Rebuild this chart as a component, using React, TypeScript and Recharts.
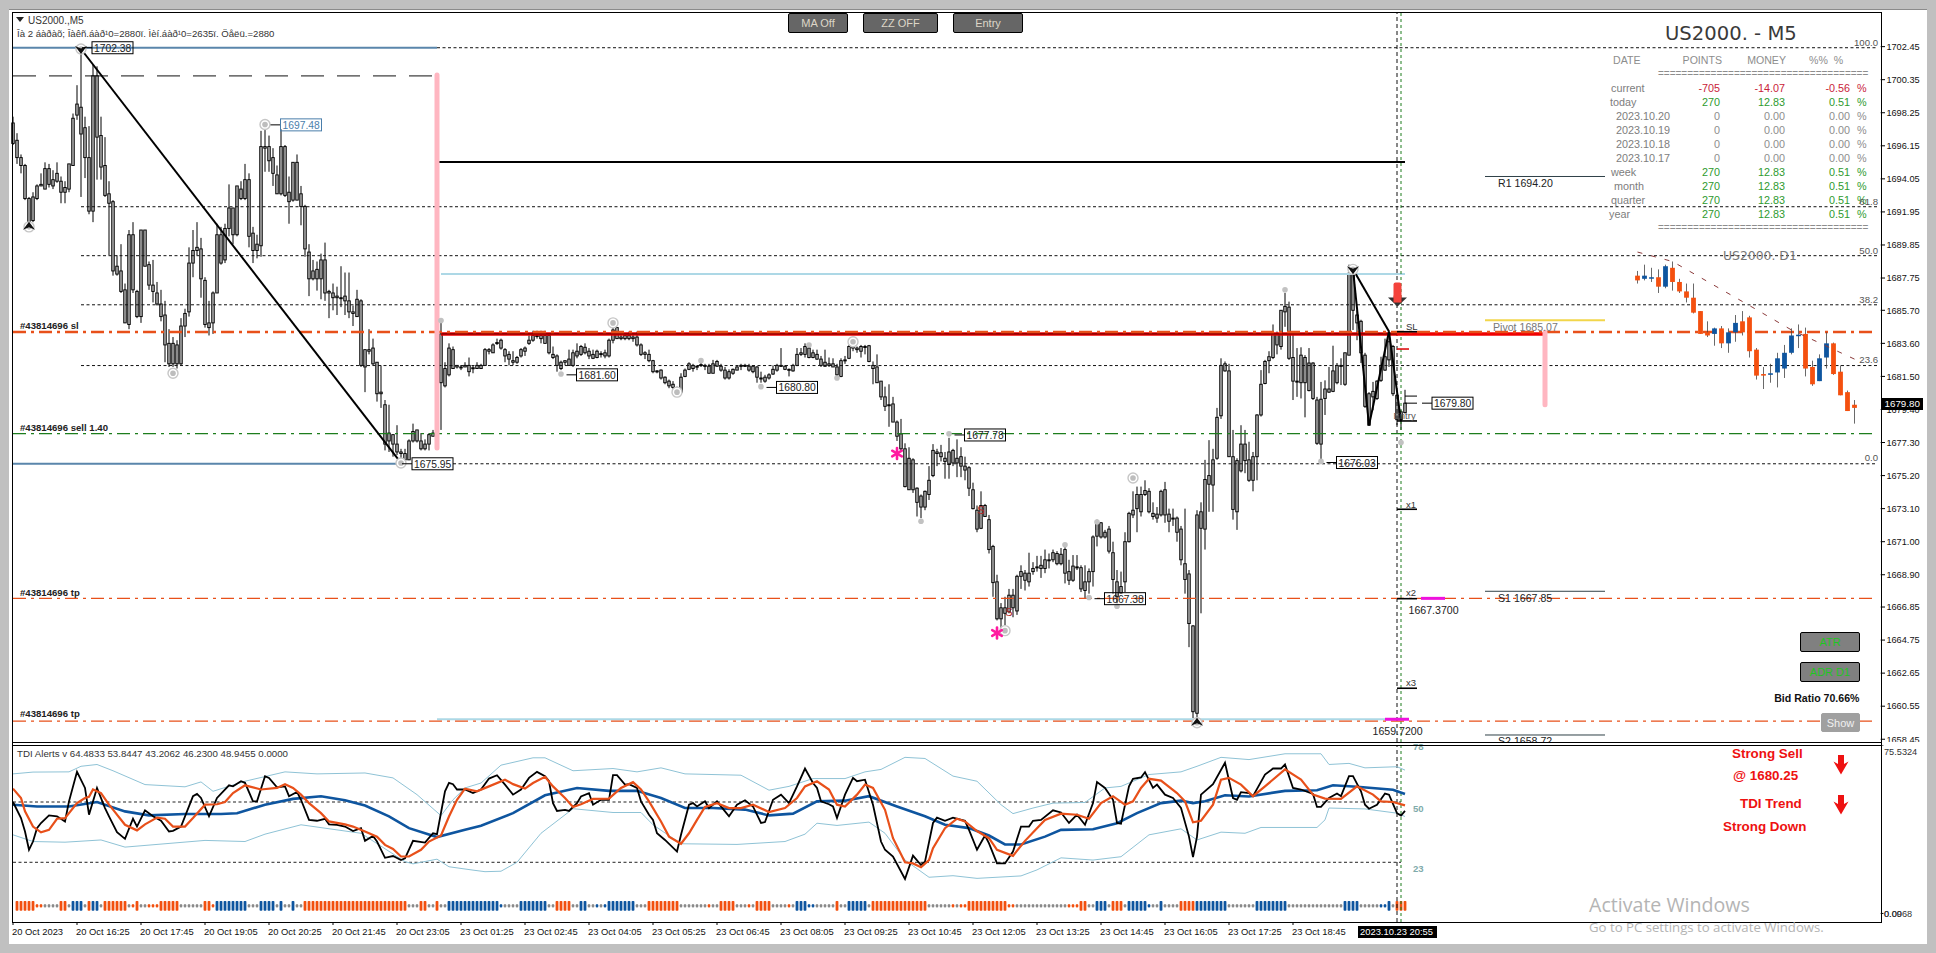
import React from "react";
import { Bar, ComposedChart, Line, ReferenceDot, ReferenceLine, XAxis, YAxis } from "recharts";

// [high, body top, body bottom, low] for each M5 bar, the picture does not tell up from down bars
const fridayBars = [
  [1698,1697.6,1696.3,1696.2],[1696.95,1696.5,1695.4,1695],[1695.6,1695.4,1694.9,1694.4],[1695,1694.9,1692.8,1692.7],[1692.9,1692.8,1691.3,1691.3],
  [1693.2,1692.9,1691.4,1691.3],[1693.7,1693.6,1692.8,1692.7],[1694.4,1693.7,1693.6,1693.6],[1695.1,1694.7,1693.4,1693.4],[1695,1694.7,1693.7,1693.5],
  [1694.6,1694,1693.6,1693.4],[1695.1,1694.4,1693.9,1693.8],[1694.2,1693.9,1693.2,1692.5],[1693.9,1693.5,1693.2,1692.5],[1695,1695,1693.4,1693.2],
  [1698.2,1697.9,1694.9,1694.9],[1700,1698.8,1698.1,1697.8],[1702.2,1698.6,1696.9,1692.9],[1698,1697.3,1695.4,1694.1],[1697.4,1695.4,1692,1691.8],
  [1701.3,1700.6,1692,1691.3],[1701.2,1700.6,1696.7,1694],[1698,1696.8,1694.8,1694],[1696.7,1694.9,1693,1692.9],[1693.9,1693.1,1692.5,1689.2],
  [1692.7,1692.6,1688.2,1687.9],[1689.2,1688.5,1688,1687.9],[1689.9,1688.2,1686.9,1686.8],[1687.4,1687,1684.9,1684.9],[1690.8,1690.5,1684.8,1684.5],
  [1691.3,1690.5,1687,1686.8],[1687,1686.9,1685.3,1685.2],[1690.8,1690.8,1685.3,1684.9],[1690.8,1690.8,1688.5,1688.5],[1688.8,1688.6,1687.3,1687],
  [1688.9,1687.3,1686.9,1686.2],[1687.5,1686.8,1686.1,1686],[1687,1686.1,1685.3,1685],[1686.3,1685.4,1683.5,1682.4],[1684.5,1683.6,1682.3,1682.1],
  [1684,1683.6,1682.3,1682.1],[1683.8,1683.5,1682.3,1682],[1685.2,1684.7,1682.3,1682.2],[1685.8,1685.5,1684.7,1684],[1689.7,1688.7,1685.6,1685.3],
  [1690.8,1689.5,1688.7,1687.8],[1691.3,1689.7,1689.5,1689.2],[1690.3,1689.6,1687.7,1686.5],[1687.8,1687.6,1684.8,1684.6],[1686.3,1684.9,1684.6,1684.1],
  [1686.9,1686.8,1684.9,1684.2],[1691.2,1690.5,1686.8,1686.8],[1691,1690.5,1688.7,1688.6],[1691.2,1690.9,1688.9,1688.7],[1693.7,1692.2,1690.9,1690.4],
  [1692.2,1692.2,1690.5,1689.9],[1693.6,1693.6,1690.5,1690.4],[1693.9,1693.4,1692.8,1692.7],[1695,1694,1692.8,1692.7],[1694.4,1694,1690.4,1689.7],
  [1691,1690.6,1689.5,1688.7],[1690.5,1689.9,1689.5,1689],[1697.1,1696.1,1689.8,1689.1],[1697.2,1696.1,1696,1694.5],[1696.8,1696.1,1695.2,1694.5],
  [1696,1695.4,1694.4,1693.6],[1694.9,1694.3,1693.1,1693.1],[1697.2,1696.1,1693.1,1693],[1696.2,1696.1,1693,1692.9],[1694.2,1693.2,1692.6,1691.2],
  [1695.1,1695.1,1692.7,1692.6],[1695.6,1695.1,1692.7,1692.7],[1693.6,1693.1,1692.3,1691.1],[1692.4,1692.3,1689.6,1689.1],[1689.9,1689.4,1687.7,1686.6],
  [1688.9,1688.2,1687.7,1687.6],[1688.8,1688.3,1687.7,1686.95],[1689.3,1688.9,1687.7,1686.4],[1690,1688.9,1686.8,1686.3],[1687,1686.9,1686.8,1685.2],
  [1687.4,1686.8,1686.5,1685.7],[1687.2,1686.6,1686.5,1685.4],[1688.5,1686.5,1686.5,1685.9],[1688.1,1686.6,1686.3,1685.4],[1688.1,1686.3,1685.6,1685.2],
  [1686,1685.6,1685.5,1684.7],[1687,1686.4,1685.3,1685.3],[1686.4,1686.3,1682.2,1682.1],[1683.2,1683.2,1682.1,1680.5],[1684.5,1683.2,1683.1,1682.9],
  [1683.9,1683.3,1682.3,1682.2],[1682.4,1682.4,1680.4,1679.9],[1682.2,1680.5,1680.4,1679.5],[1680,1679.7,1677.2,1676.8],[1679.7,1677.9,1677.4,1676.7],
  [1677.8,1677.8,1677.2,1676.4],[1678.4,1677.2,1676.7,1676.5],[1676.9,1676.7,1676.6,1676.1],[1676.9,1676.6,1676.2,1676.1],[1677.5,1677.4,1676.2,1676.2],
  [1678.5,1678,1677.4,1677.3],[1678.1,1678.1,1677.4,1677.3],[1677.9,1677.4,1676.9,1676.8],[1677.5,1677.2,1676.9,1676.8],[1677.9,1677.8,1677.2,1676.8],
  [1678.1,1677.9,1677.7,1677.7],[1678.1,1678,1677,1676.9],
];

const mondayBars = [
  [1684.9,1684.2,1681.1,1678.1],[1682.4,1682,1680.9,1680.8],[1683.6,1683.3,1681.6,1681.5],[1683.4,1683.2,1682,1682],[1682.2,1682.2,1682.1,1682],
  [1682.2,1682.1,1682.05,1681.9],[1682.4,1682.2,1682.1,1682.1],[1682.7,1682.2,1681.8,1681.5],[1682.2,1682.05,1682,1681.7],[1682.4,1682.2,1682,1682],
  [1682.3,1682.2,1682,1682],[1683.3,1683.2,1682.2,1682.2],[1683.3,1683.2,1683.1,1682.9],[1683.6,1683.5,1683,1683],[1683.9,1683.65,1683.6,1683.5],
  [1683.9,1683.8,1683.3,1683.2],[1683.3,1683.2,1682.8,1682.4],[1683.1,1682.9,1682.6,1682.2],[1683.1,1682.5,1682.4,1682.2],[1682.8,1682.7,1682.4,1682.3],
  [1683.3,1683.2,1682.8,1682.7],[1683.4,1683.3,1683.1,1682.8],[1684.1,1683.8,1683.6,1683.5],[1684.4,1684.1,1683.8,1683.7],[1684.4,1684.1,1684.05,1683.9],
  [1684.4,1684.1,1683.9,1683.6],[1684.4,1684.1,1683.6,1683.6],[1684.1,1684.1,1683,1682.9],[1683.4,1682.9,1682.7,1682.6],[1682.9,1682.8,1682.2,1681.8],
  [1682.5,1682.4,1682,1681.9],[1682.5,1682.5,1682.4,1682.2],[1683.2,1682.6,1682.2,1682.2],[1683.2,1683,1682.2,1682.1],[1683.6,1683.1,1682.8,1682.65],
  [1683.5,1683.4,1682.9,1682.8],[1683.6,1683.35,1683,1682.9],[1683.3,1683.1,1682.8,1682.6],[1683.2,1682.9,1682.65,1682.6],[1683.2,1683.1,1682.7,1682.65],
  [1683.1,1682.95,1682.9,1682.7],[1683.2,1683,1682.8,1682.65],[1683.9,1683.8,1682.8,1682.7],[1684.8,1684.45,1683.8,1683.6],[1684.6,1684.6,1683.9,1683.9],
  [1684.3,1684,1683.9,1683.8],[1684.2,1684.1,1683.9,1683.8],[1684.35,1684.1,1683.9,1683.8],[1684.2,1684,1683.9,1683.7],[1684.35,1684,1683.5,1683.4],
  [1683.6,1683.5,1682.9,1682.8],[1683.1,1683,1682.9,1682.6],[1683.2,1682.9,1682.5,1682.4],[1682.55,1682.5,1681.8,1681.7],[1681.9,1681.85,1681.8,1681.7],
  [1681.95,1681.9,1681.4,1681.3],[1681.5,1681.45,1681.1,1681],[1681.3,1681.2,1680.9,1680.75],[1681.2,1681,1680.8,1680.6],[1680.85,1680.75,1680.7,1680.4],
  [1681.7,1681.45,1680.5,1680.5],[1682,1681.9,1681.5,1681.45],[1682.4,1682.3,1681.95,1681.9],[1682.3,1682.2,1682,1681.8],[1682.2,1682.15,1682.1,1681.9],
  [1682.4,1682.25,1682.2,1682.1],[1682.3,1682.2,1682.15,1681.9],[1682.3,1682.15,1681.7,1681.7],[1682.55,1682.3,1681.7,1681.7],[1682.55,1682.45,1682.15,1682.1],
  [1682.3,1682.15,1681.9,1681.8],[1682.1,1681.9,1681.4,1681.3],[1681.95,1681.8,1681.4,1681.3],[1682,1681.95,1681.7,1681.6],[1682.2,1682.1,1681.9,1681.9],
  [1682.3,1682.2,1682.15,1681.9],[1682.3,1682.2,1682.15,1682.1],[1682.3,1682.15,1681.9,1681.8],[1682.2,1682.15,1681.8,1681.7],[1682.15,1682.1,1681.45,1681.1],
  [1681.8,1681.4,1681.35,1681.1],[1681.6,1681.45,1681.2,1681.1],[1681.7,1681.6,1681.4,1681.3],[1682.2,1681.95,1681.65,1681.6],[1682.3,1682.2,1681.9,1681.8],
  [1683.3,1682.2,1682.15,1682.1],[1682.2,1682.15,1681.95,1681.9],[1682,1681.95,1681.9,1681.5],[1682.3,1682.2,1681.85,1681.8],[1683.3,1682.9,1682.2,1682.15],
  [1683.3,1683,1682.9,1682.8],[1683.6,1683.4,1682.9,1682.7],[1683.5,1683.3,1682.7,1682.65],[1683.2,1683,1682.7,1682.65],[1683.2,1682.9,1682.6,1682.55],
  [1682.8,1682.6,1682.2,1682.1],[1683.2,1682.4,1682.15,1682.1],[1682.7,1682.3,1682.2,1682.1],[1682.65,1682.3,1682.1,1682.1],[1682.3,1682.1,1681.6,1681.3],
  [1682.65,1682.5,1681.5,1681.45],[1682.8,1682.55,1682.5,1682.3],[1683.5,1683.4,1682.65,1682.6],[1683.5,1683.4,1683.3,1683.1],[1683.4,1683.3,1683.2,1683],
  [1683.5,1683.4,1683.1,1682.7],[1683.5,1683.4,1683.35,1682.9],[1683.5,1683.45,1682.45,1682.4],[1682.45,1682.2,1682,1681],[1682.9,1682.1,1681.1,1681.1],
  [1681.2,1681.2,1680.2,1680],[1680.85,1680.2,1679.6,1679.3],[1681,1679.7,1679.7,1678.3],[1680.2,1679.75,1678.6,1678.6],[1678.7,1678.6,1677.7,1677.4],
  [1678.8,1677.85,1676.9,1676.8],[1677.25,1676.9,1674.5,1674.45],[1677,1676.3,1674.3,1674.3],[1676.3,1676.2,1674.3,1674.1],[1674.45,1674.4,1673.5,1672.6],
  [1674,1673.9,1673.2,1672.5],[1674.25,1674.2,1673.2,1673],[1675.8,1674.9,1674,1673.65],[1677.2,1676.8,1675.2,1675.1],[1676.9,1676.7,1676.6,1675.8],
  [1677.15,1676.65,1676.4,1676.1],[1676.7,1676.3,1676.1,1675],[1677.6,1676.7,1675.9,1675],[1676.9,1676.8,1676,1675.8],[1677.5,1676.3,1676,1675.1],
  [1677,1676.4,1675.8,1675.1],[1676.4,1675.8,1675.55,1674.9],[1675.8,1675.7,1674.4,1673.9],[1674.75,1674.3,1673.1,1673.05],[1673.3,1673,1671.8,1671.6],
  [1674.2,1673.3,1671.85,1671.8],[1673.4,1673.3,1672.6,1672.6],[1672.7,1672.4,1670.5,1670.25],[1670.8,1670.7,1668.4,1667.5],[1668.9,1668.45,1666.1,1666],
  [1667.1,1666.8,1666.1,1665.5],[1667.5,1666.8,1666.45,1665.7],[1668,1667.6,1666.55,1666.45],[1668,1667.6,1666.8,1666.2],[1668.9,1668.8,1666.6,1666.35],
  [1669.5,1669.1,1668.8,1668],[1669.2,1669,1668.55,1667.9],[1670.3,1669,1668.45,1668.15],[1669.7,1669.3,1669.1,1668.9],[1670.1,1669.4,1669.35,1669.1],
  [1670.1,1669.5,1669.3,1668.7],[1670.5,1669.85,1669.3,1669],[1670.25,1669.85,1669.8,1669.3],[1670.5,1670.3,1669.85,1669.7],[1670.4,1670.25,1669.6,1669.5],
  [1670.6,1670.2,1669.6,1669.5],[1670.9,1670.5,1669,1668.35],[1669.85,1669.1,1668.55,1668.25],[1670.15,1669.45,1668.55,1668.45],[1670.15,1669.4,1669.35,1669.2],
  [1669.5,1669.35,1668,1667.8],[1669.5,1668.45,1667.9,1667.4],[1669.3,1669.1,1668.45,1667.7],[1671.4,1671.3,1669.1,1668.15],[1672.4,1672.2,1671.35,1670.7],
  [1672.25,1672.2,1671.3,1671.2],[1671.75,1671.6,1671.3,1671.2],[1672,1671.8,1670.4,1670.25],[1671,1670.3,1668.6,1667.7],[1669.2,1668.45,1667.5,1667.1],
  [1669.1,1668.15,1667.75,1667.7],[1671.6,1671,1668.45,1667.8],[1672.9,1672.8,1671,1670.95],[1674.2,1673,1672.7,1672.5],[1674.5,1674,1673.1,1671.6],
  [1674.5,1674,1672.9,1672.6],[1674.9,1674.25,1674,1673.9],[1674.4,1674.2,1672.9,1672.8],[1673.5,1672.8,1672.6,1672.4],[1673.2,1672.75,1672.5,1672.2],
  [1674.3,1674.2,1672.7,1672.6],[1674.8,1674.3,1672.7,1672.2],[1673.1,1672.75,1672.3,1671.6],[1673.1,1672.5,1672.45,1672],[1672.6,1672.5,1671.6,1671],
  [1672,1671.8,1669.85,1669.5],[1673.1,1669.6,1668.6,1667.7],[1669.2,1668.95,1665.8,1664.3],[1665.7,1665.65,1660.2,1659.8],[1673,1672.7,1660.1,1659.85],
  [1673.5,1672.9,1671.85,1666.45],[1676.2,1674.95,1671.8,1670.5],[1677.45,1675.2,1674.65,1672.9],[1676.9,1676.2,1674.6,1672.9],[1679.5,1678.9,1676.3,1676.2],
  [1682.65,1682.2,1679,1678.8],[1682.45,1682.3,1681.85,1681.8],[1682.3,1681.85,1676.4,1676.4],[1678.1,1676.4,1673.05,1672.4],[1676.3,1676.15,1672.9,1671.75],
  [1678.4,1677.2,1675.5,1675.4],[1678.1,1677.2,1676.15,1675.35],[1677.35,1676.2,1674.9,1674.8],[1676.7,1676.4,1674.9,1674.2],[1679.1,1679.05,1676.4,1674.9],
  [1681.9,1681,1679.05,1678.95],[1682.55,1682.45,1681.05,1681],[1683.1,1682.75,1682.5,1681.7],[1684.8,1684.2,1682.7,1682.6],[1684.35,1684.2,1683.5,1682.9],
  [1685.7,1685.7,1683.4,1683.2],[1686.8,1685.95,1685.6,1684.65],[1686.25,1685.9,1682.65,1682.55],[1684.35,1682.7,1681.2,1680],[1683.3,1681.2,1681.15,1680.2],
  [1683.35,1682.85,1681.1,1680.1],[1682.85,1682.7,1681.1,1678.9],[1683.3,1682.35,1680.6,1680.55],[1682.4,1682.35,1680.1,1680],[1680.2,1680,1677.25,1677.15],
  [1681.15,1680.05,1677.2,1676.2],[1681.25,1680.7,1680.1,1679.05],[1682.1,1680.7,1680.5,1680.45],[1683.45,1681.85,1680.55,1680.5],[1682.35,1682.2,1681.1,1681],
  [1682.65,1682.2,1682.15,1680.95],[1683,1683,1681,1680.9],[1688.6,1688.05,1682.85,1682.85],[1688.15,1688.05,1685.7,1684.45],[1685.7,1685.4,1684.9,1683.8],
  [1685.1,1685,1683,1682.35],[1683,1682.85,1679.6,1679.5],[1680.5,1680.4,1678.4,1678.35],[1681.15,1680.55,1680.2,1679.35],[1681.25,1681.2,1680.1,1680],
  [1682.75,1682.2,1681.25,1681.15],[1683.9,1682.75,1681.9,1681.85],[1684.35,1683.7,1682.55,1682.1],[1683.5,1683.4,1680.4,1680.25],[1680.4,1680.3,1678.75,1678.4],
  [1679.35,1679.25,1678.75,1678.1],[1680.65,1679.8,1679.2,1679.15],
];

// daily inset, read against the same price scale: [high, body top, body bottom, low]
const d1Bars = [
  [1688.2,1687.9,1687.6,1687.4],[1688.6,1687.9,1687.7,1687.6],[1688.4,1687.8,1687.75,1687.5],[1688.3,1687.8,1687.2,1686.8],[1688.6,1688.5,1687.2,1687.1],
  [1688.8,1688.4,1687.5,1686.95],[1687.7,1687.5,1686.9,1686.8],[1687.4,1686.9,1686.5,1686.2],[1687.4,1686.5,1685.55,1685.5],[1685.65,1685.65,1684.2,1684.2],
  [1685,1684.3,1684.1,1684],[1684.6,1684.55,1684.2,1683.45],[1684.7,1684.55,1683.6,1683.3],[1684.55,1684.3,1683.6,1683],[1685.4,1684.9,1684.3,1683.7],
  [1685.65,1685,1684.3,1684.1],[1685.35,1685.25,1683.1,1682.7],[1683.3,1683.2,1681.55,1681.3],[1682.1,1681.65,1681.55,1680.7],[1682.3,1681.7,1681.6,1681.1],
  [1683,1682.65,1681.75,1680.8],[1683.5,1683,1682,1681.4],[1684.55,1684.1,1683,1682.9],[1684.8,1684.15,1684.1,1683.3],[1684.6,1684.2,1682,1681.5],
  [1682.5,1682.1,1681,1680.9],[1682.9,1682.65,1681.2,1681.2],[1684.3,1683.6,1682.7,1682],[1683.65,1683.6,1681.65,1681.6],[1682.2,1681.8,1680.3,1680.3],
  [1680.6,1680.5,1679.3,1679.3],[1680,1679.7,1679.5,1678.5],
];
const d1Colors = "obbobooooooobobboooobbbbboobboooo".slice(0, 0) + "obbob" + "oooooo" + "b" + "o" + "bb" + "oooo" + "bbbbb" + "oo" + "bb" + "oooo";
const d1Trend = [[0,1689.4],[5,1688.8],[16,1686],[22,1684.45],[31,1682.6]];

// TDI series as [bar, value] at the turning points
const rsiPoints = [[0,50],[2,42.8],[3,36.8],[4,28.6],[5,32.3],[6,38.3],[7,40.6],[9,44],[11,43.6],[13,41.3],[14,50.3],[16,63.5],[18,56.3],[19,44.3],[21,56.3],[23,47.3],[24,43.6],[26,36.5],[28,33.5],[30,42.5],[31,39],[33,46.3],[35,43.6],[37,41.6],[39,36.8],[40,37.1],[42,39],[45,52.6],[46,53.6],[47,51.8],[49,43.6],[51,51.8],[54,57.5],[55,57],[57,59.3],[58,58.6],[60,50.3],[61,50.3],[63,61.6],[64,60.8],[66,56.6],[68,57],[69,52.6],[71,54.5],[72,51],[74,42],[76,41.6],[78,42.5],[79,40],[81,39.8],[83,39],[85,37],[87,38.3],[88,32.6],[90,34.8],[91,32.3],[93,25],[95,25.8],[97,24],[98,24.8],[100,32.6],[103,31.8],[105,36],[106,35.6],[108,54.8],[109,58.6],[110,58],[111,55.6],[113,55.6],[115,54],[117,55.6],[119,60.5],[121,62],[123,57.8],[125,53.3],[127,55.6],[129,60.8],[131,63.5],[133,61.6],[134,59.3],[135,49.5],[136,46],[138,46.5],[139,46],[141,49.5],[142,52.5],[144,54],[145,48.8],[147,51],[149,51],[150,62],[151,62],[153,57.8],[154,58],[156,56.3],[157,50.3],[159,44.3],[160,42],[161,36],[163,33],[166,27.8],[167,35.3],[169,48.8],[170,49.5],[171,48],[173,50.3],[174,47.3],[176,50.3],[178,45.8],[179,43.6],[181,48.8],[183,50.8],[185,48],[187,40.6],[188,41],[190,51],[192,53.3],[194,49.5],[196,57],[198,65],[200,58.5],[201,56.3],[202,50.3],[204,49],[205,48],[206,42.8],[208,53.3],[210,60.8],[211,59.3],[213,60],[215,48.8],[217,32.3],[218,28.6],[220,25.6],[223,15.5],[225,26],[227,21.8],[228,23.3],[230,40.6],[231,43],[233,41.6],[235,43],[238,41.6],[239,37.5],[241,28.6],[243,35],[244,31.5],[246,22.5],[248,22.5],[250,27.8],[252,39],[254,39],[255,41.6],[257,42],[260,46.3],[262,45.3],[264,40.6],[266,44.3],[268,39.8],[270,49.5],[271,58.9],[273,56.3],[275,51],[276,40.6],[277,40.3],[279,57],[280,60.4],[282,61],[283,63.4],[285,56.3],[286,57.8],[288,53.3],[290,51.8],[292,47.3],[294,34.5],[295,25.3],[296,34.5],[297,53.3],[300,58],[303,67.6],[305,51.8],[306,51],[307,54.4],[309,54],[310,52.6],[313,62.3],[315,65],[317,65],[318,66.8],[320,56.3],[322,55.6],[325,53.6],[326,47.8],[327,47.8],[329,51.8],[331,53.8],[332,52.6],[334,61.6],[335,61.6],[337,54.8],[338,48.8],[339,47],[341,48.8],[343,53.8],[344,53.3],[346,45],[347,43.9],[348,46]];
const signalPoints = [[0,56],[2,51.8],[3,45.8],[5,39],[7,36.4],[9,37.5],[11,42.5],[13,42.8],[16,49.5],[18,51.8],[19,52.3],[20,55.6],[22,54],[24,48.8],[25,46.6],[28,39.8],[31,37.3],[33,40],[36,43],[38,42.5],[40,39],[43,39],[45,42.8],[48,48.8],[51,49],[53,50],[55,54],[58,57.5],[59,57],[62,55.6],[66,56.3],[68,58],[70,56.3],[72,53.3],[74,49.5],[77,45],[79,41.3],[83,40],[85,39],[88,36.8],[91,34.5],[93,30.8],[95,29],[97,25.6],[99,25.6],[102,28.6],[104,32.3],[107,35],[109,43.5],[111,51],[113,56],[116,54.8],[119,57],[123,60],[125,58],[128,56],[130,58.5],[133,61.3],[135,57],[138,51.8],[140,47.8],[142,49],[145,51.4],[149,51.5],[152,56.3],[155,58.9],[157,55.6],[159,50.3],[162,41.3],[164,34.5],[167,31.3],[169,36],[171,42],[173,47.8],[176,49.5],[179,47.3],[182,47.3],[185,48.8],[189,45.5],[193,47.3],[196,51.8],[198,57],[201,59.3],[204,55.6],[206,48.8],[208,48],[211,53.3],[213,57.8],[215,56.3],[218,46.5],[220,33.8],[223,23],[225,22.5],[227,20.8],[229,24],[230,29.3],[233,38.3],[236,42.5],[238,41.3],[241,37],[244,33.8],[246,28.6],[250,25.9],[253,32.6],[256,38.3],[258,42],[262,44.8],[266,44.3],[269,42.5],[272,49.5],[275,52.6],[278,48.8],[280,50.3],[282,56.3],[284,60.4],[287,59.6],[291,54],[293,50.3],[295,40.9],[297,41.6],[300,48.8],[302,60],[304,60.8],[307,57.8],[310,52.6],[313,57],[318,64.6],[322,60],[325,53.3],[328,51.5],[332,51.4],[336,57],[340,53.3],[342,50.3],[345,50],[348,48.5]];
const baseLinePoints = [[0,48.8],[6,48],[14,48],[21,50],[28,45.8],[34,44],[43,44.6],[52,44.6],[56,45],[63,48.8],[70,51.4],[77,52.6],[83,50.8],[88,48.4],[94,43.6],[99,38.3],[106,34.3],[113,37.6],[117,39.4],[125,45],[133,53],[141,56.3],[149,55],[156,55],[162,51.8],[168,47.3],[175,47.3],[183,46.6],[189,44],[195,44.8],[201,50.3],[208,50.6],[214,52.6],[221,48],[228,43.6],[233,39.8],[239,38.3],[244,35],[248,31],[252,31],[258,34.5],[262,37.5],[270,37.8],[276,40.5],[281,45],[287,49.5],[292,50.6],[295,49.5],[298,50.3],[303,53],[309,52.5],[318,55],[326,55.3],[330,57.5],[336,56.8],[345,55.5],[348,53.6]];
const upperBandPoints = [[0,62.6],[5,63.4],[14,63.5],[17,66],[21,66.8],[25,64],[33,57.8],[43,56.8],[47,59],[50,54.8],[58,59.3],[68,63.5],[76,62.6],[88,63],[95,60.8],[101,53.3],[107,43.9],[110,51],[113,56.3],[117,58.5],[122,66.5],[130,69.8],[133,69.8],[140,64],[150,65],[156,63.5],[162,65.3],[168,62.6],[182,62],[189,55.3],[194,57],[200,60.5],[208,60.5],[213,63.5],[217,64.6],[223,70],[228,69.5],[235,61.6],[241,59.3],[247,48.8],[250,44.8],[255,47.3],[260,49.5],[268,49.8],[273,56.3],[277,57],[284,62.3],[292,63.5],[296,66],[302,70],[309,69],[318,71.6],[327,71.6],[329,66.8],[334,67.3],[338,65.3],[346,65.8],[348,64.3]];
const lowerBandPoints = [[0,35.3],[5,32.3],[13,32],[22,33],[28,29.8],[38,31.3],[48,32.8],[58,32.3],[63,35.6],[72,39.8],[87,36],[98,23.3],[100,22.3],[106,24.4],[109,21],[115,19.5],[118,18.8],[122,19],[126,23],[132,36],[140,47],[150,45.3],[157,45.3],[160,39.8],[167,31.3],[181,31],[193,32.3],[198,35.6],[201,40.5],[206,39.5],[214,41],[218,36],[223,24],[229,16.3],[235,17],[241,15.8],[252,16.9],[256,19.6],[262,25],[270,24],[277,25.5],[284,35.3],[292,38],[296,33],[302,36.5],[308,36],[312,38.6],[326,38.6],[328,42],[329,47.3],[338,46.9],[346,45],[348,43.5]];

// trend strip along the TDI pane, [kind, bars]: o/b tall, s/d small orange/blue, g grey
const stripRuns: [string, number][] = [
  ["o",5],["s",2],["g",4],["o",2],["g",1],["b",3],["g",1],["o",1],["b",2],["g",1],["o",6],["g",1],["s",1],["o",1],["g",2],["s",3],["o",5],["g",6],["o",2],["s",1],
  ["b",8],["g",3],["b",4],["g",1],["b",1],["g",2],["b",1],["g",2],["o",26],["g",3],["o",2],["g",2],["o",1],["g",2],["b",13],["d",1],["g",4],["b",7],["g",2],["o",4],
  ["g",2],["b",2],["g",2],["d",1],["g",1],["d",1],["b",7],["g",3],["o",8],["g",7],["s",1],["g",2],["o",4],["g",3],["s",1],["g",1],["o",4],["g",4],["s",1],["g",1],
  ["b",3],["d",2],["g",5],["o",1],["g",2],["b",5],["g",1],["o",14],["g",6],["s",1],["g",1],["s",2],["o",10],["s",2],["g",13],["s",3],["o",2],["g",2],["b",3],["g",1],
  ["o",3],["g",1],["b",5],["d",1],["g",2],["b",1],["g",4],["o",4],["b",8],["g",7],["b",8],["g",14],["b",4],["g",5],["d",2],["b",1],["g",1],["o",3],
];

const priceTicks = [1702.45,1700.35,1698.25,1696.15,1694.05,1691.95,1689.85,1687.75,1685.7,1683.6,1681.5,1679.4,1677.3,1675.2,1673.1,1671,1668.9,1666.85,1664.75,1662.65,1660.55,1658.45];
const timeBars = [0,16,32,48,64,80,96,112,128,144,160,176,192,208,224,240,256,272,288,304,320];
const timeLabels = ["20 Oct 2023","20 Oct 16:25","20 Oct 17:45","20 Oct 19:05","20 Oct 20:25","20 Oct 21:45","20 Oct 23:05","23 Oct 01:25","23 Oct 02:45","23 Oct 04:05","23 Oct 05:25","23 Oct 06:45","23 Oct 08:05","23 Oct 09:25","23 Oct 10:45","23 Oct 12:05","23 Oct 13:25","23 Oct 14:45","23 Oct 16:05","23 Oct 17:25","23 Oct 18:45"];

const fibLevels = [[1702.38,"100.0",106],[1692.28,"61.8",17],[1689.17,"50.0",17],[1686.05,"38.2",17],[1682.19,"23.6",17],[1675.95,"0.0",110]];
const orderLevels = [[1684.32,2.5,"#e8501a"],[1677.87,1.2,"#1d7d1d"],[1667.4,1.2,"#e8501a"],[1659.6,1.2,"#e8501a"]];
const pivotLevels = [[1694.2,"#2f4047",1],[1685.07,"#f2d64b",2],[1667.85,"#2f4047",1],[1658.72,"#2f4047",1]];
const zigzagLegs = [[17,1702.3,97,1676],[335,1688.3,344,1684.35],[335,1688.3,339,1678.4],[339,1678.4,344,1684.35],[344,1684.35,347,1678.65]];
const tradeLevels = [1684.34,1678.67,1673.06,1667.38,1661.69];
const ringPivots = [[63,1697.5],[40,1681.7],[97,1676],[150,1684.9],[166,1680.5],[210,1683.7],[280,1675.05],[248,1665.35],[17,1702.3],[4,1691],[296,1659.5],[335,1688.3]];
const dotPivots = [[107,1685.05],[137,1681.65],[172,1682.5],[187,1680.85],[199,1683.5],[206,1681.4],[227,1672.3],[234,1677.85],[318,1687],[327,1676.1],[271,1672.25],[263,1670.8],[269,1667.45],[276,1666.9],[347,1677.3]];
const pivotTags = [[17,1702.38,"1702.38"],[63,1697.48,"1697.48"],[97,1675.95,"1675.95"],[137,1681.6,"1681.60"],[187,1680.8,"1680.80"],[234,1677.78,"1677.78"],[327,1676.03,"1676.03"],[269,1667.38,"1667.38"],[348,1679.8,"1679.80"]];
const upArrowPivots = [[4,1691],[296,1659.5]];
const downArrowPivots = [[17,1702.3],[335,1688.3]];
const starMarks = [[221,1676.6],[246,1665.2]];
const letterMarks = [[242,1673],[249,1666.55]];

const tableNames = ["current","today","2023.10.20","2023.10.19","2023.10.18","2023.10.17","week","month","quarter","year"];
const tablePoints = ["-705","270","0","0","0","0","270","270","270","270"];
const tableMoney = ["-14.07","12.83","0.00","0.00","0.00","0.00","12.83","12.83","12.83","12.83"];
const tablePercent = ["-0.56","0.51","0.00","0.00","0.00","0.00","0.51","0.51","0.51","0.51"];
const tableNameLeft = [1611,1610,1616,1616,1616,1616,1611,1614,1611,1609];

const SLOTS = 467;
const BAND = 4;
const PLOT_LEFT = 11.3;
const AXIS_W = 55;
const MAIN_TOP = 12;
const MAIN_H = 730;
const TDI_TOP = 745;
const TDI_H = 177;
const PRICE_DOMAIN = [1658.275, 1704.65];
const TDI_DOMAIN = [-3.74, 75.5324];
const SANS = "'Liberation Sans', Arial, sans-serif";
const DEJA = "'DejaVu Sans', sans-serif";
const DASHDOT = "13 5 3 5";

const candles = [...fridayBars, ...mondayBars];
const mainRows = Array.from({ length: SLOTS }, (_, bar) => {
  const c = candles[bar];
  return c ? { bar, high: c[0], bodyTop: c[1], bodyBottom: c[2], low: c[3] } : { bar };
});

const d1Rows = d1Bars.map((c, bar) => {
  const t = d1Trend.find((p) => p[0] === bar);
  return { bar, high: c[0], bodyTop: c[1], bodyBottom: c[2], low: c[3], kind: d1Colors[bar], trend: t ? t[1] : null };
});

const tdiRows: any[] = Array.from({ length: SLOTS }, (_, bar) => ({ bar }));
const putSeries = (points: number[][], key: string) => points.forEach((p) => (tdiRows[p[0]][key] = p[1]));
putSeries(rsiPoints, "rsi");
putSeries(signalPoints, "signal");
putSeries(baseLinePoints, "base");
putSeries(upperBandPoints, "upper");
putSeries(lowerBandPoints, "lower");
let stripBar = 1;
stripRuns.forEach(([kind, run]) => {
  for (let n = 0; n < run; n++) tdiRows[stripBar++].strip = kind;
});

const candleRange = (d: any) => (d.high == null ? null : [d.low, d.high]);
const stripRange = (d: any) => {
  if (!d.strip) return null;
  return d.strip === "o" || d.strip === "b" ? [1.32, 5.67] : [2.7, 4.3];
};

function Candle(props: any) {
  const { x, y, width, height, payload } = props;
  if (!payload || payload.high == null || !Number.isFinite(y)) return null;
  const k = height / (payload.high - payload.low);
  const cx = x + width / 2;
  const top = y + (payload.high - payload.bodyTop) * k;
  const h = Math.max((payload.bodyTop - payload.bodyBottom) * k, 1);
  return (
    <g>
      <line x1={cx} x2={cx} y1={y} y2={y + height} stroke="#000" strokeWidth={1} />
      <rect x={cx - 1.25} y={top} width={2.5} height={h} fill="#b4b4b4" stroke="#000" strokeWidth={0.95} />
    </g>
  );
}

function D1Candle(props: any) {
  const { x, y, width, height, payload } = props;
  if (!payload || !Number.isFinite(y)) return null;
  const k = height / (payload.high - payload.low);
  const cx = x + width / 2;
  const top = y + (payload.high - payload.bodyTop) * k;
  const h = Math.max((payload.bodyTop - payload.bodyBottom) * k, 1.5);
  const color = payload.kind === "b" ? "#0e559f" : "#f4500f";
  return (
    <g>
      <line x1={cx} x2={cx} y1={y} y2={y + height} stroke="#444" strokeWidth={0.8} />
      <rect x={cx - 2.4} y={top} width={4.8} height={h} fill={color} />
    </g>
  );
}

function StripMark(props: any) {
  const { x, y, width, height, payload } = props;
  if (!payload || !payload.strip || !Number.isFinite(y)) return null;
  const s = payload.strip;
  const color = s === "o" || s === "s" ? "#f2500f" : s === "b" || s === "d" ? "#0e559f" : "#8a8a8a";
  const tall = s === "o" || s === "b";
  return <rect x={x + 0.6} y={y} width={width - 1.2} height={height} rx={tall ? 0.8 : 1.5} fill={color} />;
}

function PriceTick(props: any) {
  const { x, y, payload } = props;
  return (
    <g>
      <line x1={x + 1.7} x2={x + 6} y1={y} y2={y} stroke="#000" />
      <text x={x + 7.4} y={y + 3.3} fontSize={9.2} fontFamily={SANS} fill="#111">{payload.value.toFixed(2)}</text>
    </g>
  );
}

function TdiTick(props: any) {
  const { x, y, payload } = props;
  const isTop = payload.value > 50;
  return (
    <g fontSize={9.2} fontFamily={SANS} fill="#333">
      <line x1={x + 1.7} x2={x + 4.5} y1={y} y2={y} stroke="#000" />
      <text x={x + 5} y={y + (isTop ? 10 : 4)}>{isTop ? "75.5324" : "0.0968"}</text>
      {!isTop && <text x={x + 5} y={y + 4}>0.00</text>}
    </g>
  );
}

function TimeTick(props: any) {
  const { x, y, payload } = props;
  const label = timeLabels[timeBars.indexOf(payload.value)];
  return (
    <g>
      <line x1={x} x2={x} y1={y} y2={y + 3} stroke="#000" />
      <text x={x - 1} y={y + 13} fontSize={9.4} fontFamily={SANS} fill="#111">{label}</text>
    </g>
  );
}

const RingDot = (props: any) => {
  const { cx, cy } = props;
  return (
    <g>
      <circle cx={cx} cy={cy} r={5} fill="#fff" stroke="#c6c6c6" strokeWidth={1.4} />
      <circle cx={cx} cy={cy} r={2.8} fill="#bdbdbd" />
    </g>
  );
};

const SmallDot = (props: any) => <circle cx={props.cx} cy={props.cy} r={2.8} fill="#c2c2c2" />;

const UpArrowMark = ({ cx, cy }: any) => (
  <path d={`M${cx} ${cy - 5}L${cx + 6} ${cy + 3}L${cx} ${cy + 0.5}L${cx - 6} ${cy + 3}Z`} fill="#111" />
);

const DownArrowMark = ({ cx, cy }: any) => (
  <path d={`M${cx} ${cy + 5}L${cx + 6} ${cy - 3}L${cx} ${cy - 0.5}L${cx - 6} ${cy - 3}Z`} fill="#111" />
);

const StarMark = ({ cx, cy }: any) => (
  <g stroke="#ff1aa0" strokeWidth={2.6} strokeLinecap="round">
    <line x1={cx} x2={cx} y1={cy - 5.5} y2={cy + 5.5} />
    <line x1={cx - 4.8} x2={cx + 4.8} y1={cy - 2.8} y2={cy + 2.8} />
    <line x1={cx - 4.8} x2={cx + 4.8} y1={cy + 2.8} y2={cy - 2.8} />
  </g>
);

const LetterMark = (props: any) => (
  <text x={props.cx} y={props.cy + 4} textAnchor="middle" fontSize={11} fontFamily={SANS} fill="#b02a2a">S</text>
);

const tagGap: Record<string, number> = { "1702.38": 11, "1675.95": 11, "1679.80": 27 };

const PriceTag = (props: any) => {
  const { cx, cy, text } = props;
  const gap = tagGap[text] ?? 15.5;
  const color = text === "1697.48" ? "#4a7eab" : "#000";
  return (
    <g>
      <line x1={cx + gap - 10} x2={cx + gap} y1={cy} y2={cy} stroke="#000" />
      <rect x={cx + gap} y={cy - 6} width={41} height={12} fill="none" stroke={color} />
      <text x={cx + gap + 2} y={cy + 4} fontSize={10.3} fontFamily={SANS} fill={text === "1697.48" ? color : "#222"}>{text}</text>
    </g>
  );
};

const SellArrow = (props: any) => {
  const { cx, cy } = props;
  return (
    <g>
      <rect x={cx - 3.5} y={cy - 12} width={8} height={18} rx={2} fill="#f4433c" />
      <path d={`M${cx - 9} ${cy + 3}L${cx + 10} ${cy + 3}L${cx + 0.5} ${cy + 12}Z`} fill="#333" />
      <rect x={cx - 3.5} y={cy + 1} width={8} height={7} fill="#f4433c" />
    </g>
  );
};

const Txt = ({ x, y, size = 10, color = "#000", bold = false, family = SANS, right = false, children }: any) => (
  <div
    style={{
      position: "absolute",
      left: right ? undefined : x,
      right: right ? 1936 - x : undefined,
      top: y,
      transform: "translateY(-50%)",
      fontSize: size,
      color,
      fontWeight: bold ? 700 : 400,
      fontFamily: family,
      whiteSpace: "pre",
      lineHeight: 1,
    }}
  >
    {children}
  </div>
);

const UiButton = ({ x, y, w, h, fill, color, label, border = "#000", size = 11 }: any) => (
  <div
    style={{
      position: "absolute",
      left: x,
      top: y,
      width: w,
      height: h,
      boxSizing: "border-box",
      background: fill,
      border: `1.5px solid ${border}`,
      borderRadius: 2,
      color,
      fontFamily: SANS,
      fontSize: size,
      display: "flex",
      alignItems: "center",
      justifyContent: "center",
    }}
  >
    {label}
  </div>
);

const Box = ({ x, y, w, h, c = "#000" }: any) => (
  <div style={{ position: "absolute", left: x, top: y, width: w, height: h, background: c }} />
);

const DownArrow = ({ x, y }: any) => (
  <svg style={{ position: "absolute", left: x, top: y }} width={16} height={20}>
    <path d="M5 0H11V9L15.5 6.5L8 19.5L0.5 6.5L5 9Z" fill="#ee1111" />
  </svg>
);

const percentColor = (v: string) => (v.startsWith("-") ? "#c9233a" : v.startsWith("0.00") || v === "0" ? "#8d8d8d" : "#2e9a2e");

const seg = (a: number, pa: number, b: number, pb: number) => [{ x: a, y: pa }, { x: b, y: pb }] as any;

export default function App() {
  return (
    <div style={{ position: "absolute", left: 0, top: 0, width: 1936, height: 953, background: "#c0c0c0", overflow: "hidden" }}>
      <Box x={9} y={9} w={1918} h={935} c="#ffffff" />
      <Box x={9} y={9} w={1918} h={1} c="#8b8b8b" />

      {/* main pane */}
      <div style={{ position: "absolute", left: PLOT_LEFT, top: MAIN_TOP }}>
        <ComposedChart width={SLOTS * BAND + AXIS_W} height={MAIN_H} data={mainRows} margin={{ top: 0, right: 0, bottom: 0, left: 0 }} barCategoryGap={0} barGap={0}>
          <XAxis dataKey="bar" type="category" hide interval={0} />
          <YAxis orientation="right" width={AXIS_W} domain={PRICE_DOMAIN} ticks={priceTicks} interval={0} allowDataOverflow axisLine={false} tickLine={false} tickSize={0} tickMargin={0} tick={PriceTick} />

          <ReferenceLine segment={seg(0, 1702.38, 106, 1702.38)} stroke="#5a86ab" strokeWidth={2} />
          <ReferenceLine segment={seg(0, 1675.95, 97, 1675.95)} stroke="#5a86ab" strokeWidth={2} />
          <ReferenceLine segment={seg(0, 1700.59, 106, 1700.59)} stroke="#111" strokeDasharray="23 13" />
          <ReferenceLine segment={seg(106, 1695.12, 348, 1695.12)} stroke="#000" strokeWidth={2} />
          <ReferenceLine segment={seg(107, 1688, 348, 1688)} stroke="#add8e6" strokeWidth={2} />
          <ReferenceLine segment={seg(106, 1659.72, 348, 1659.72)} stroke="#add8e6" strokeWidth={2} />
          {fibLevels.map((f: any) => (
            <ReferenceLine key={f[1]} segment={seg(f[2], f[0], SLOTS - 1, f[0])} stroke="#111" strokeDasharray="3 2.5" />
          ))}
          {pivotLevels.map((p: any) => (
            <ReferenceLine key={p[0]} segment={seg(368, p[0], 398, p[0])} stroke={p[1]} strokeWidth={p[2]} />
          ))}
          <ReferenceLine x={346} stroke="#111" strokeDasharray="4 3" />
          <ReferenceLine x={347} stroke="#1d7d1d" strokeDasharray="3 3" />

          <Bar dataKey={candleRange} shape={Candle} isAnimationActive={false} />

          <ReferenceLine segment={seg(107, 1684.2, 383, 1684.2)} stroke="#f00000" strokeWidth={3.5} />
          <ReferenceLine segment={seg(107, 1684.2, 346, 1684.2)} stroke="#5a0000" strokeWidth={1} />
          {orderLevels.map((o: any) => (
            <ReferenceLine key={o[0]} segment={seg(0, o[0], SLOTS - 1, o[0])} stroke={o[2]} strokeWidth={o[1]} strokeDasharray={DASHDOT} />
          ))}
          <ReferenceLine segment={seg(106, 1700.65, 106, 1676.95)} stroke="#ffb6c1" strokeWidth={5} strokeLinecap="round" />
          <ReferenceLine segment={seg(383, 1684.3, 383, 1679.7)} stroke="#ffb6c1" strokeWidth={5} strokeLinecap="round" />
          {zigzagLegs.map((z, i) => (
            <ReferenceLine key={i} segment={seg(z[0], z[1], z[2], z[3])} stroke="#000" strokeWidth={2} />
          ))}
          {tradeLevels.map((t) => (
            <ReferenceLine key={t} segment={seg(346, t, 351, t)} stroke="#000" strokeWidth={1.6} />
          ))}
          <ReferenceLine segment={seg(346, 1683.24, 349, 1683.24)} stroke="#dd1111" strokeWidth={1.6} />
          <ReferenceLine segment={seg(352, 1667.4, 358, 1667.4)} stroke="#ee11dd" strokeWidth={3} />
          <ReferenceLine segment={seg(343, 1659.72, 349, 1659.72)} stroke="#ee11dd" strokeWidth={3} />
          <ReferenceLine segment={seg(348, 1680.25, 351, 1680.25)} stroke="#000" />
          <ReferenceLine segment={seg(348, 1679.8, 351, 1679.8)} stroke="#000" />

          {ringPivots.map((p) => (
            <ReferenceDot key={p[0]} x={p[0]} y={p[1]} shape={RingDot} />
          ))}
          {dotPivots.map((p) => (
            <ReferenceDot key={p[0]} x={p[0]} y={p[1]} shape={SmallDot} />
          ))}
          {upArrowPivots.map((p) => (
            <ReferenceDot key={p[0]} x={p[0]} y={p[1]} shape={UpArrowMark} />
          ))}
          {downArrowPivots.map((p) => (
            <ReferenceDot key={p[0]} x={p[0]} y={p[1]} shape={DownArrowMark} />
          ))}
          {pivotTags.map((p) => (
            <ReferenceDot key={p[0]} x={p[0]} y={p[1]} shape={(s: any) => <PriceTag {...s} text={p[2]} />} />
          ))}
          {starMarks.map((p) => (
            <ReferenceDot key={p[0]} x={p[0]} y={p[1]} shape={StarMark} />
          ))}
          {letterMarks.map((p) => (
            <ReferenceDot key={p[0]} x={p[0]} y={p[1]} shape={LetterMark} />
          ))}
          <ReferenceDot x={346} y={1686.7} shape={SellArrow} />
        </ComposedChart>
      </div>

      {/* daily inset, same price scale as the main pane */}
      <div style={{ position: "absolute", left: 1633.8, top: MAIN_TOP }}>
        <ComposedChart width={d1Bars.length * 7} height={MAIN_H} data={d1Rows} margin={{ top: 0, right: 0, bottom: 0, left: 0 }} barCategoryGap={0}>
          <XAxis dataKey="bar" type="category" hide interval={0} />
          <YAxis hide domain={PRICE_DOMAIN} allowDataOverflow />
          <Bar dataKey={candleRange} shape={D1Candle} isAnimationActive={false} />
          <Line dataKey="trend" connectNulls dot={false} stroke="#8b3a3a" strokeWidth={1} strokeDasharray="5 9" isAnimationActive={false} />
        </ComposedChart>
      </div>

      {/* text over the main pane */}
      <svg style={{ position: "absolute", left: 16, top: 17 }} width={9} height={6}><path d="M0 0H8L4 5Z" fill="#222" /></svg>
      <Txt x={28} y={20.5} size={10} color="#333">US2000.,M5</Txt>
      <Txt x={17} y={33.5} size={9.6} color="#333">Îà 2 áàðàõ; Îàêñ.áàð¹0=2880ï. Ìèí.áàð¹0=2635ï. Öåëü.=2880</Txt>
      <UiButton x={788} y={13} w={60} h={20} fill="#666" color="#ddd6c8" label="MA Off" />
      <UiButton x={863} y={13} w={75} h={20} fill="#666" color="#ddd6c8" label="ZZ OFF" />
      <UiButton x={953} y={13} w={70} h={20} fill="#666" color="#ddd6c8" label="Entry" />

      <Txt x={1665} y={34} size={19.6} color="#3a3a3a" family={DEJA}>US2000. - M5</Txt>
      <Txt x={1613} y={60} size={10.6} color="#8d8d8d">DATE</Txt>
      <Txt x={1722} y={60} size={10.6} color="#8d8d8d" right>POINTS</Txt>
      <Txt x={1786} y={60} size={10.6} color="#8d8d8d" right>MONEY</Txt>
      <Txt x={1809} y={60} size={10.6} color="#8d8d8d">%%  %</Txt>
      <Txt x={1658} y={74} size={10} color="#8d8d8d">====================================</Txt>
      <Txt x={1658} y={228} size={10} color="#8d8d8d">====================================</Txt>
      {tableNames.map((name, i) => (
        <React.Fragment key={name}>
          <Txt x={tableNameLeft[i]} y={88.3 + i * 14} size={10.8} color="#7d7d7d">{name}</Txt>
          <Txt x={1720} y={88.3 + i * 14} size={10.8} color={percentColor(tablePoints[i])} right>{tablePoints[i]}</Txt>
          <Txt x={1785} y={88.3 + i * 14} size={10.8} color={percentColor(tableMoney[i])} right>{tableMoney[i]}</Txt>
          <Txt x={1850} y={88.3 + i * 14} size={10.8} color={percentColor(tablePercent[i])} right>{tablePercent[i]}</Txt>
          <Txt x={1857} y={88.3 + i * 14} size={10.8} color={percentColor(tablePercent[i])}>%</Txt>
        </React.Fragment>
      ))}
      {fibLevels.map((f: any, i) => (
        <Txt key={f[1]} x={1878} y={[42.5, 202, 250.5, 300, 360, 458][i]} size={9.6} color="#555" right>{f[1]}</Txt>
      ))}
      <Txt x={1723} y={255.5} size={12.4} color="#777" family={DEJA}>US2000. D1</Txt>
      <Txt x={1498} y={183} size={10.6} color="#222">R1 1694.20</Txt>
      <Txt x={1493} y={327} size={10.6} color="#777">Pivot 1685.07</Txt>
      <Txt x={1498} y={598} size={10.6} color="#222">S1 1667.85</Txt>
      <Txt x={1498} y={741} size={10.6} color="#222">S2 1658.72</Txt>
      <Box x={1490} y={742.5} w={120} h={3} c="#ffffff" />

      <Txt x={20} y={326} size={9.6} bold color="#222">#43814696 sl</Txt>
      <Txt x={20} y={428} size={9.6} bold color="#222">#43814696 sell 1.40</Txt>
      <Txt x={20} y={593} size={9.6} bold color="#222">#43814696 tp</Txt>
      <Txt x={20} y={714} size={9.6} bold color="#222">#43814696 tp</Txt>
      <Txt x={1406} y={326.7} size={9.5} color="#333">SL</Txt>
      <Txt x={1406} y={505} size={9.5} color="#333">x1</Txt>
      <Txt x={1406} y={593.3} size={9.5} color="#333">x2</Txt>
      <Txt x={1406} y={683.3} size={9.5} color="#333">x3</Txt>
      <Txt x={1393.5} y={416} size={9.5} color="#555">Entry</Txt>
      <Txt x={1408.5} y={610} size={10.6} color="#222">1667.3700</Txt>
      <Txt x={1372.5} y={731} size={10.6} color="#222">1659.7200</Txt>

      <UiButton x={1800} y={632} w={60} h={20} fill="#808080" color="#22c422" label="ATR" />
      <UiButton x={1800} y={662} w={60} h={20} fill="#808080" color="#22c422" label="ADR D1" />
      <Txt x={1859.5} y={698} size={10.6} color="#111" bold right>Bid Ratio 70.66%</Txt>
      <UiButton x={1821} y={713} w={39} h={19} fill="#a0a0a0" color="#f0f0f0" label="Show" border="#a0a0a0" size={11} />

      <Box x={1881.7} y={398} w={41.5} h={11.5} c="#000" />
      <Txt x={1884.5} y={404} size={9.8} color="#fff">1679.80</Txt>

      {/* TDI pane */}
      <Box x={12} y={TDI_TOP} w={1869} h={TDI_H} c="#ffffff" />
      <div style={{ position: "absolute", left: PLOT_LEFT, top: TDI_TOP }}>
        <ComposedChart width={SLOTS * BAND + AXIS_W} height={TDI_H + 24} data={tdiRows} margin={{ top: 0, right: 0, bottom: 0, left: 0 }} barCategoryGap={0} barGap={0}>
          <XAxis dataKey="bar" type="category" height={24} ticks={timeBars} interval={0} axisLine={false} tickLine={false} tickSize={0} tickMargin={0} tick={TimeTick} />
          <YAxis orientation="right" width={AXIS_W} domain={TDI_DOMAIN} ticks={[75.5324, 0.0968]} interval={0} allowDataOverflow axisLine={false} tickLine={false} tickSize={0} tickMargin={0} tick={TdiTick} />
          <ReferenceLine segment={seg(0, 50, 347, 50)} stroke="#222" strokeDasharray="3 2.5" />
          <ReferenceLine segment={seg(0, 23, 347, 23)} stroke="#222" strokeDasharray="3 2.5" />
          <ReferenceLine x={346} stroke="#111" strokeDasharray="4 3" />
          <ReferenceLine x={347} stroke="#1d7d1d" strokeDasharray="3 3" />
          <Bar dataKey={stripRange} shape={StripMark} isAnimationActive={false} />
          <Line dataKey="upper" connectNulls dot={false} stroke="#8fc3d6" strokeWidth={1} isAnimationActive={false} />
          <Line dataKey="lower" connectNulls dot={false} stroke="#8fc3d6" strokeWidth={1} isAnimationActive={false} />
          <Line dataKey="base" connectNulls dot={false} stroke="#0e559f" strokeWidth={2.6} isAnimationActive={false} />
          <Line dataKey="rsi" connectNulls dot={false} stroke="#000" strokeWidth={1.8} isAnimationActive={false} />
          <Line dataKey="signal" connectNulls dot={false} stroke="#e8501a" strokeWidth={2.2} isAnimationActive={false} />
        </ComposedChart>
      </div>

      <Txt x={17} y={753.7} size={9.7} color="#333">TDI Alerts v 64.4833 53.8447 43.2062 46.2300 48.9455 0.0000</Txt>
      <Txt x={1413} y={747} size={9.6} bold color="#7fabab">78</Txt>
      <Txt x={1413} y={808.5} size={9.6} bold color="#7fabab">50</Txt>
      <Txt x={1413} y={868.5} size={9.6} bold color="#7fabab">23</Txt>
      <Txt x={1732} y={754} size={13.4} bold color="#ee1111">Strong Sell</Txt>
      <Txt x={1733} y={776} size={13.4} bold color="#ee1111">@ 1680.25</Txt>
      <Txt x={1740} y={804} size={13.4} bold color="#ee1111">TDI Trend</Txt>
      <Txt x={1723} y={826.7} size={13.4} bold color="#ee1111">Strong Down</Txt>
      <DownArrow x={1833} y={755} />
      <DownArrow x={1833} y={795} />

      {/* pane frames */}
      <Box x={12} y={12} w={1869} h={1} />
      <Box x={12} y={742} w={1869} h={1} />
      <Box x={12} y={744.5} w={1869} h={1} />
      <Box x={12} y={922} w={1869} h={1} />
      <Box x={12} y={12} w={1} h={910} />
      <Box x={1881} y={12} w={1} h={911} />

      <Box x={1357.5} y={925.5} w={79} h={12} c="#000" />
      <Txt x={1360} y={932} size={9.4} color="#fff">2023.10.23 20:55</Txt>

      <Txt x={1589} y={905} size={19.6} color="#b4b4b4" family="'Open Sans', sans-serif">Activate Windows</Txt>
      <Txt x={1589} y={928} size={13.2} color="#b4b4b4" family="'Open Sans', sans-serif">Go to PC settings to activate Windows.</Txt>
    </div>
  );
}
